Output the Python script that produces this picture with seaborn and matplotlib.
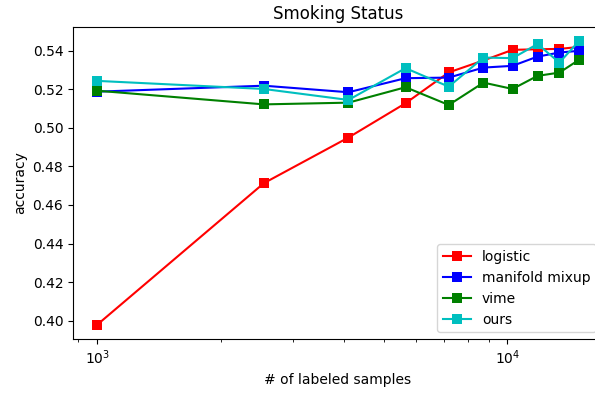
import pandas as pd
import matplotlib
matplotlib.use("Agg")
import matplotlib.pyplot as plt
import seaborn as sns

# --- data ---
n_labeled = [1000, 2550, 4100, 5650, 7200, 8750, 10300, 11850, 13400, 14950]
logistic = [0.3978, 0.4713, 0.4950, 0.5128, 0.5288, 0.5350, 0.5405, 0.5408, 0.5410, 0.5420]
manifold_mixup = [0.5188, 0.5219, 0.5185, 0.5258, 0.5261, 0.5313, 0.5322, 0.5370, 0.5391, 0.5400]
vime = [0.5193, 0.5122, 0.5131, 0.5211, 0.5119, 0.5235, 0.5202, 0.5270, 0.5287, 0.5353]
ours = [0.5244, 0.5202, 0.5145, 0.5310, 0.5214, 0.5365, 0.5362, 0.5435, 0.5339, 0.5450]

series = {'logistic': logistic, 'manifold mixup': manifold_mixup, 'vime': vime, 'ours': ours}
colors = {'logistic': 'r', 'manifold mixup': 'b', 'vime': 'g', 'ours': 'c'}

df = pd.DataFrame([
    {'n': n, 'acc': v, 'method': name}
    for name, vals in series.items() for n, v in zip(n_labeled, vals)
])

fig = plt.figure(figsize=(5.95, 3.97), dpi=100)
ax = fig.add_axes([73 / 595, 58 / 397, 530 / 595, 312 / 397])

for name in series:
    sns.lineplot(data=df[df['method'] == name], x='n', y='acc', color=colors[name],
                 marker='s', markersize=7, markeredgewidth=0, linewidth=1.5,
                 label=name, ax=ax)

ax.set_xscale('log')
ax.set_title('Smoking Status')
ax.set_xlabel('# of labeled samples')
ax.set_ylabel('accuracy')
ax.legend(loc='lower right')

fig.savefig('out.png', dpi=100)
